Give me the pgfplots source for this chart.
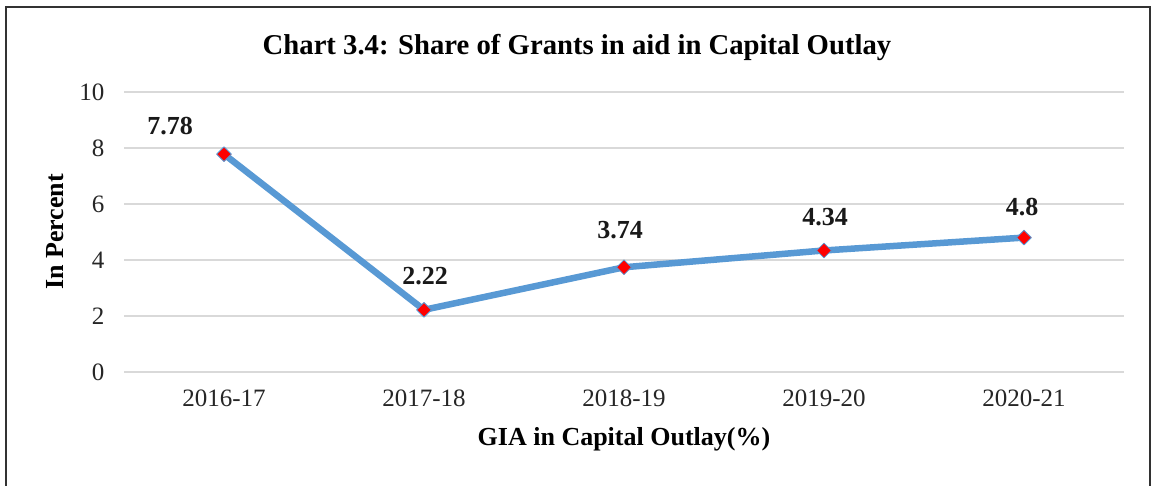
\documentclass[border=0pt]{standalone}
\usepackage{pgfplots}
\pgfplotsset{compat=1.18}
\usepackage{fontspec}
\setmainfont{Liberation Serif}
\definecolor{lineblue}{RGB}{88,153,212}
\definecolor{gridgray}{RGB}{217,217,217}
\definecolor{framegray}{RGB}{50,50,50}
\begin{document}
\begin{tikzpicture}
\useasboundingbox (0,0) rectangle (1153pt,485pt);
\fill[white] (0,0) rectangle (1153pt,485pt);
\draw[framegray, line width=2pt] (6pt,-2pt) -- (6pt,478pt) -- (1150pt,478pt) -- (1150pt,-2pt);
\begin{axis}[
  at={(124pt,113pt)}, anchor=south west,
  scale only axis, width=1000pt, height=280pt,
  xmin=-0.5, xmax=4.5, ymin=0, ymax=10,
  xtick={0,1,2,3,4},
  xticklabels={2016-17,2017-18,2018-19,2019-20,2020-21},
  ytick={0,2,4,6,8,10},
  axis line style={draw=none},
  major tick length=0pt,
  ymajorgrids, grid style={gridgray, line width=1.5pt},
  tick label style={font=\fontsize{25}{29}\selectfont, text=black!85},
  /pgf/number format/assume math mode=true,
  yticklabel style={xshift=-16pt},
  xticklabel style={yshift=-14pt},
  title={\textbf{Chart 3.4: Share of Grants in aid in Capital Outlay}},
  title style={font=\fontsize{28.7}{33}\selectfont, at={(0.5,1)}, anchor=center, yshift=39pt, xshift=-47pt},
  xlabel={\textbf{GIA in Capital Outlay(\%)}},
  xlabel style={font=\fontsize{26}{30}\selectfont, at={(0.5,0)}, anchor=center, yshift=-67pt},
  ylabel={\textbf{In Percent}},
  ylabel style={font=\fontsize{26}{30}\selectfont, at={(0,0.5)}, anchor=center, yshift=69pt},
  clip=false,
]
\addplot[
  lineblue, line width=6.5pt, line join=round,
  mark=square*, mark size=5.2pt,
  mark options={fill=red, draw=lineblue, line width=0.8pt, rotate=45},
  visualization depends on={\thisrow{dx}\as\dx},
  visualization depends on={\thisrow{dy}\as\dy},
  nodes near coords,
  point meta=explicit symbolic,
  nodes near coords style={font=\fontsize{26}{30}\selectfont\bfseries, text=black!90, anchor=center, xshift=\dx pt, yshift=\dy pt},
] table[x=x, y=y, meta=lab] {
x y lab dx dy
0 7.78 7.78 -54 28
1 2.22 2.22 1 34
2 3.74 3.74 -4 37
3 4.34 4.34 1 33
4 4.80 4.8 -2 31
};
\end{axis}
\end{tikzpicture}
\end{document}
